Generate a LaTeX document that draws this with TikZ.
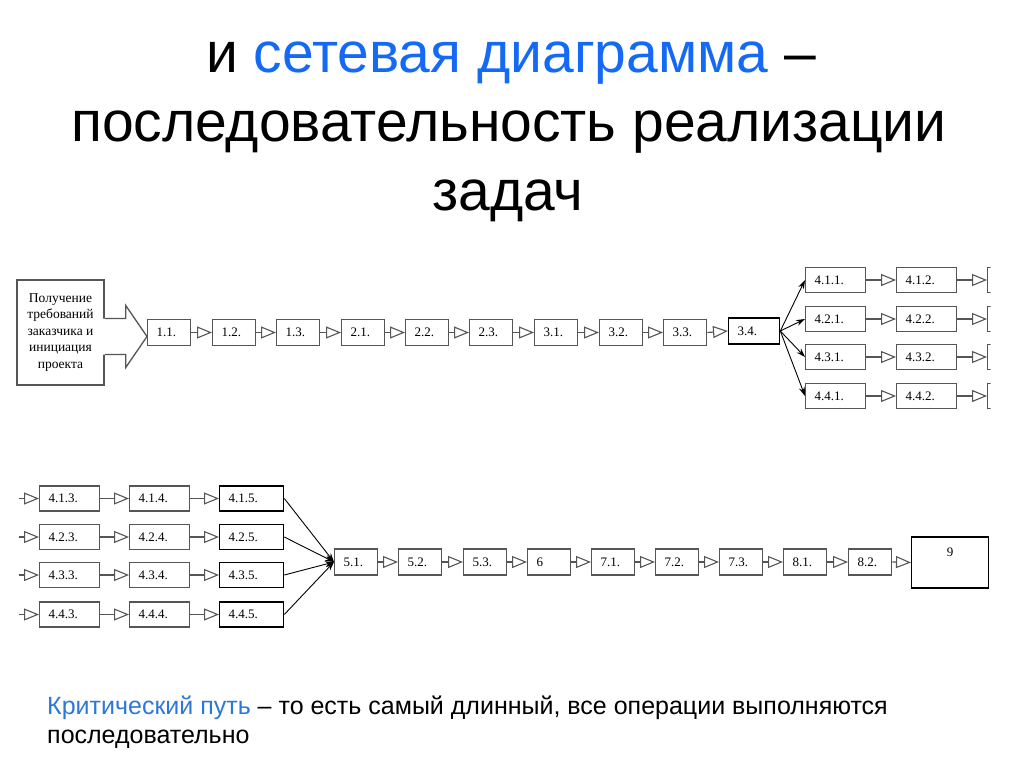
\documentclass[tikz,border=0pt]{standalone}
\usepackage{fontspec}
\setmainfont{Liberation Serif}
\newfontfamily\titlefont{Liberation Sans}
\usetikzlibrary{arrows.meta,calc}
\definecolor{tblue}{RGB}{20,105,245}
\definecolor{bblue}{RGB}{45,120,215}
\definecolor{bgray}{RGB}{85,85,85}
\begin{document}
\begin{tikzpicture}[x=1pt,y=-1pt,
  tb/.style={draw=bgray, line width=1.3pt, fill=white, anchor=west, inner xsep=9pt, inner ysep=0pt,
    minimum height=26pt, text width=#1, align=left, font=\fontsize{13}{14}\selectfont},
  tb/.default=25pt,
  pb/.style={draw=bgray, line width=1.3pt, anchor=west, minimum width=20pt, minimum height=25pt, inner sep=0pt},
  lnk/.style={draw=bgray, line width=1.2pt, -{Triangle[open, length=15pt, width=12pt, line width=1.1pt]}},
  fan/.style={draw=black, line width=0.9pt, -{Stealth[length=9pt, width=6pt]}},
  ttl/.style={font=\titlefont\fontsize{57}{68}\selectfont, anchor=base},
  note/.style={font=\titlefont\fontsize{25}{26}\selectfont, anchor=base west, inner sep=0pt},
]
\useasboundingbox (0,0) rectangle (1024,767);

% title
\node[ttl] (t1) at (511,73) {и \textcolor{tblue}{сетевая диаграмма} –};
\node[ttl] (t2) at (509,142) {последовательность реализации};
\node[ttl] (t3) at (508,211) {задач};

% start box
\node[draw=bgray, line width=1.5pt, minimum width=87pt, minimum height=105pt, inner sep=0pt, align=center,
  font=\fontsize{13.5}{16.5}\selectfont] (start) at (60.5,332.5)
  {Получение\\требований\\заказчика и\\инициация\\проекта};

% top row
\foreach \n/\lab/\x in {11/1.1./147, 12/1.2./212, 13/1.3./276, 21/2.1./341, 22/2.2./405,
  23/2.3./469, 31/3.1./534, 32/3.2./599, 33/3.3./663}
  \node[tb] (n\n) at (\x,332.5) {\lab};
\node[tb=33pt, draw=black] (n34) at (728,331) {3.4.};

% block arrow start -> 1.1.
\path (n11.west) ++(0,4) coordinate (tip);
\coordinate (sa) at (start.east |- tip);
\fill[white] ($(sa)+(-2,-18)$) -- ($(sa)+(21,-18)$) -- ($(sa)+(21,-31)$) -- (tip)
  -- ($(sa)+(21,31)$) -- ($(sa)+(21,18)$) -- ($(sa)+(-2,18)$) -- cycle;
\draw[bgray, line width=1.3pt, line join=miter] ($(sa)+(0,-18)$) -- ($(sa)+(21,-18)$) -- ($(sa)+(21,-31)$) -- (tip)
  -- ($(sa)+(21,31)$) -- ($(sa)+(21,18)$) -- ($(sa)+(0,18)$);

\foreach \a/\b in {11/12, 12/13, 13/21, 21/22, 22/23, 23/31, 31/32, 32/33, 33/34}
  \draw[lnk] (n\a.east) -- (n\b.west);

% branch 4.x.1 / 4.x.2
\foreach \r/\y in {1/280, 2/319, 3/357, 4/396} {
  \node[tb=42pt, minimum height=25pt] (a\r1) at (805,\y) {4.\r.1.};
  \node[tb=42pt, minimum height=25pt] (a\r2) at (896,\y) {4.\r.2.};
  \draw[fan] (n34.east) -- (a\r1.west);
  \draw[lnk] (a\r1.east) -- (a\r2.west);
}
\begin{scope}
  \clip (0,0) rectangle (990.5,767);
  \foreach \r/\y in {1/280, 2/319, 3/357, 4/396} {
    \node[pb] (p\r) at (987,\y) {};
  }
\end{scope}
\foreach \r in {1,...,4}
  \draw[lnk] (a\r2.east) -- (p\r.west);

% bottom block
\foreach \r/\y in {1/498.5, 2/537, 3/575, 4/614.5} {
  \coordinate (s\r) at (19,\y);
  \node[tb=42pt, minimum height=25pt] (b\r3) at (39,\y) {4.\r.3.};
  \node[tb=42pt, minimum height=25pt] (b\r4) at (129,\y) {4.\r.4.};
  \node[tb=46pt, minimum height=25pt, draw=black] (b\r5) at (219,\y) {4.\r.5.};
  \draw[lnk] (s\r) -- (b\r3.west);
  \draw[lnk] (b\r3.east) -- (b\r4.west);
  \draw[lnk] (b\r4.east) -- (b\r5.west);
}

% bottom row
\foreach \n/\lab/\x in {51/5.1./334, 52/5.2./398, 53/5.3./463, 6/6/527, 71/7.1./591,
  72/7.2./655, 73/7.3./719, 81/8.1./783, 82/8.2./848}
  \node[tb] (c\n) at (\x,562) {\lab};
\node[draw=black, line width=1.3pt, anchor=west, minimum width=77pt, minimum height=51pt, inner sep=0pt,
  text height=7pt, text depth=20pt, font=\fontsize{13}{14}\selectfont] (c9) at (911,562.5) {9};

\foreach \r in {1,...,4}
  \draw[fan] (b\r5.east) -- (c51.west);
\foreach \a/\b in {51/52, 52/53, 53/6, 6/71, 71/72, 72/73, 73/81, 81/82, 82/9}
  \draw[lnk] (c\a.east) -- (c\b.west);

% bottom note
\node[note] (note1) at (47,714)
  {\textcolor{bblue}{Критический путь} – то есть самый длинный, все операции выполняются};
\node[note] (note2) at (47,743) {последовательно};
\end{tikzpicture}
\end{document}
